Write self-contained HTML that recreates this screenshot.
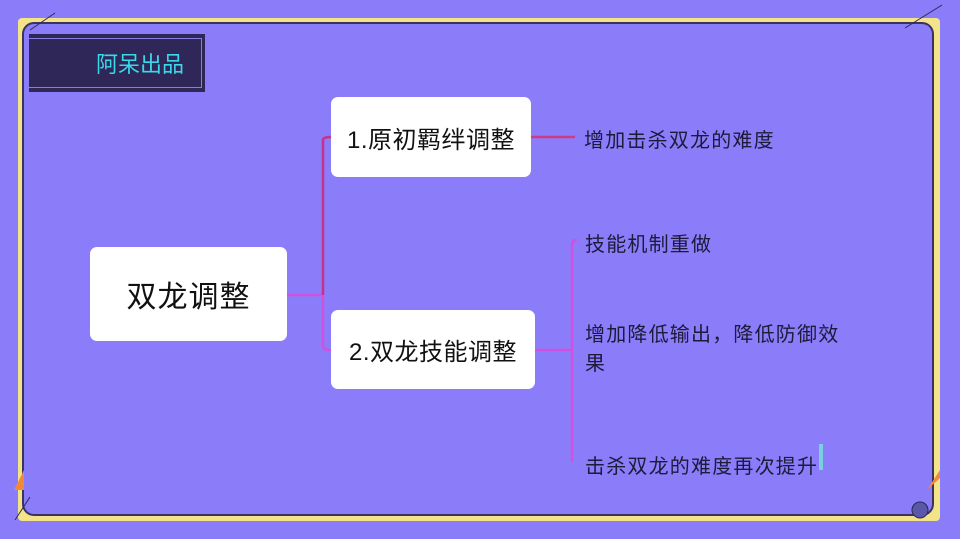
<!DOCTYPE html>
<html><head><meta charset="utf-8"><style>
body{margin:0;width:960px;height:539px;background:#8b7cfa;position:relative;overflow:hidden;font-family:"Liberation Sans","Noto Sans CJK SC",sans-serif;}
.a{position:absolute}
.box{position:absolute;background:#fff;border-radius:7px;display:flex;align-items:center;justify-content:center;color:#111;}
.t{position:absolute;color:#1e1a3a;font-size:20px;letter-spacing:1.2px;white-space:nowrap}
</style></head><body>
<div class="a" style="left:18px;top:18px;width:922px;height:503px;background:#f3e48a;border-radius:4px"></div>
<div class="a" style="left:22px;top:22px;width:912px;height:494px;background:#3a3360;border-radius:12px"></div>
<div class="a" style="left:24px;top:24px;width:908px;height:490px;background:#8b7cfa;border-radius:10px"></div>
<div class="a" style="left:29px;top:34px;width:176px;height:58px;background:#2e2758"></div>
<div class="a" style="left:29px;top:38px;width:172px;height:48px;border:1.5px solid #8a7ce0;border-left:none"></div>
<div class="a" style="left:96px;top:47px;color:#3ad8e8;font-size:22px">阿呆出品</div>
<svg class="a" style="left:0;top:0" width="960" height="539">
<line x1="30" y1="30" x2="55" y2="13" stroke="#2e2758" stroke-width="1"/>
<line x1="905" y1="28" x2="942" y2="5" stroke="#2e2758" stroke-width="1"/>
<line x1="15" y1="520" x2="30" y2="497" stroke="#2e2758" stroke-width="1"/>
<path d="M287 295 H323" stroke="#d050e0" stroke-width="2.5" fill="none"/>
<path d="M323 295 V140 Q323 137 331 137" stroke="#c8308a" stroke-width="2.5" fill="none"/>
<path d="M323 295 V346 Q323 350 331 350" stroke="#d050e0" stroke-width="2.5" fill="none"/>
<path d="M531 137 H575" stroke="#d03a80" stroke-width="2.5" fill="none"/>
<path d="M535 350 H572" stroke="#d050e0" stroke-width="2.5" fill="none"/>
<path d="M572 462 V245 Q572 240 577 240" stroke="#d050e0" stroke-width="2.5" fill="none"/>
<path d="M14 490 L24 470 L24 490 Z" fill="#f08a3a"/>
<path d="M927 490 L940 470 L940 478 Z" fill="#f08a3a"/>
<circle cx="920" cy="510" r="8" fill="#5a58a8" stroke="#2e2758"/>
<rect x="819" y="444" width="4" height="26" fill="#7ad0e0"/>
</svg>
<div class="box" style="left:90px;top:247px;width:197px;height:94px;font-size:30px;letter-spacing:1px">双龙调整</div>
<div class="box" style="left:331px;top:97px;width:200px;height:80px;font-size:24px;letter-spacing:0.5px">1.原初羁绊调整</div>
<div class="box" style="left:331px;top:310px;width:204px;height:79px;font-size:24px;letter-spacing:0.5px">2.双龙技能调整</div>
<div class="t" style="left:584px;top:124px">增加击杀双龙的难度</div>
<div class="t" style="left:585px;top:228px">技能机制重做</div>
<div class="t" style="left:585px;top:321px;line-height:29px">增加降低输出，降低防御效<br>果</div>
<div class="t" style="left:585px;top:450px">击杀双龙的难度再次提升</div>
</body></html>
